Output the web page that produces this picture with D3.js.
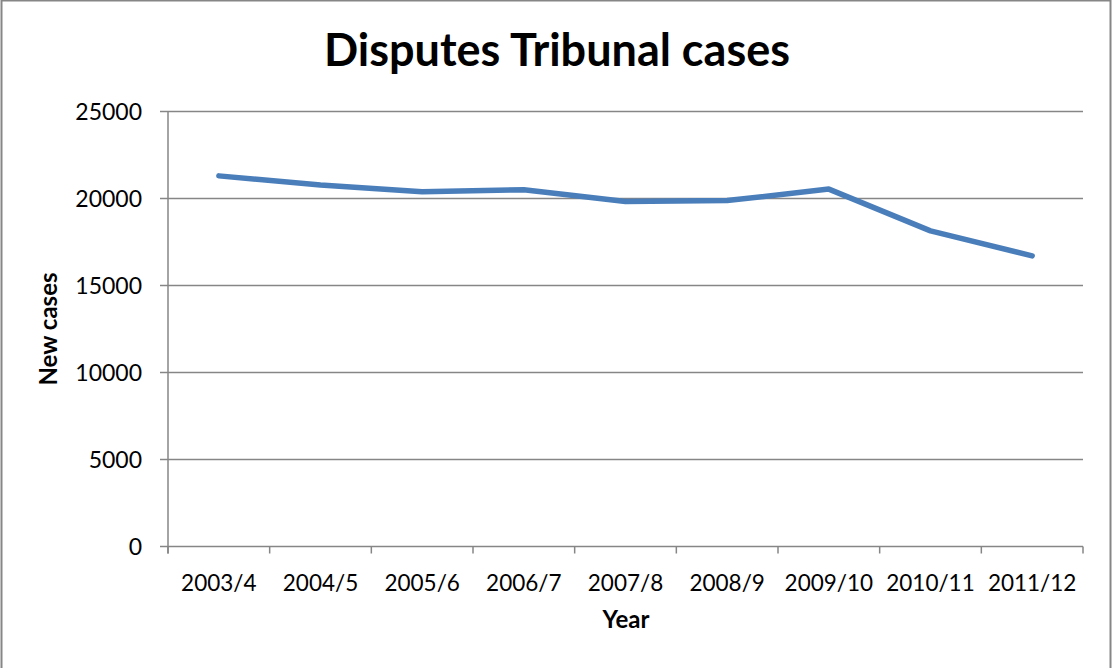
<!DOCTYPE html>
<html>
<head>
<meta charset="utf-8">
<script src="https://cdn.jsdelivr.net/npm/d3@7"></script>
<style>
  html, body { margin: 0; padding: 0; background: #fff; }
  svg { display: block; font-family: Lato, "Open Sans", sans-serif; }
</style>
</head>
<body>
<div id="chart"></div>
<script>
const years = ["2003/4", "2004/5", "2005/6", "2006/7", "2007/8", "2008/9", "2009/10", "2010/11", "2011/12"]
const newCases = [21300, 20780, 20390, 20500, 19830, 19880, 20540, 18140, 16700]
const yTicks = [0, 5000, 10000, 15000, 20000, 25000]

const width = 1113
const height = 668
const margin = {top: 111.5, right: 30, bottom: 121.5, left: 168}
const chartWidth = width - margin.left - margin.right
const chartHeight = height - margin.top - margin.bottom
const gridColor = "#868686"

const svg = d3.select("#chart").append("svg")
    .attr("width", width)
    .attr("height", height)

// outer frame
svg.append("rect")
  .attr("x", 1.5)
  .attr("y", 0.5)
  .attr("width", 1109)
  .attr("height", 680)
  .attr("fill", "none")
  .attr("stroke", gridColor)
  .attr("stroke-width", 2)

const xScale = d3.scaleBand()
    .domain(years)
    .range([0, chartWidth])

const yScale = d3.scaleLinear()
    .domain([0, 25000])
    .range([chartHeight, 0])

const g = svg.append("g")
    .attr("transform", `translate(${margin.left}, ${margin.top})`)

// horizontal gridlines
g.append("g")
  .selectAll("line")
  .data(yTicks)
  .join("line")
  .attr("x1", -8)
  .attr("x2", chartWidth)
  .attr("y1", d => yScale(d))
  .attr("y2", d => yScale(d))
  .attr("stroke", gridColor)
  .attr("stroke-width", 1.5)

// y axis line
g.append("line")
  .attr("x1", 0).attr("x2", 0)
  .attr("y1", 0).attr("y2", chartHeight + 7)
  .attr("stroke", gridColor)
  .attr("stroke-width", 1.5)

// x category boundary ticks
const boundaries = years.map(d => xScale(d)).concat([chartWidth])
g.append("g")
  .selectAll("line")
  .data(boundaries)
  .join("line")
  .attr("x1", d => d).attr("x2", d => d)
  .attr("y1", chartHeight).attr("y2", chartHeight + 7)
  .attr("stroke", gridColor)
  .attr("stroke-width", 1.5)

// y tick labels
g.append("g")
  .selectAll("text")
  .data(yTicks)
  .join("text")
  .attr("x", -26)
  .attr("y", d => yScale(d))
  .attr("dy", "0.35em")
  .attr("text-anchor", "end")
  .attr("font-size", 23)
  .attr("fill", "#000")
  .text(d => d)

// x tick labels
g.append("g")
  .selectAll("text")
  .data(years)
  .join("text")
  .attr("x", d => xScale(d) + xScale.bandwidth() / 2)
  .attr("y", chartHeight + 44)
  .attr("text-anchor", "middle")
  .attr("font-size", 22.5)
  .attr("fill", "#000")
  .text(d => d)

const line = d3.line()
    .x((d, i) => xScale(years[i]) + xScale.bandwidth() / 2)
    .y(d => yScale(d))

g.append("path")
  .datum(newCases)
  .attr("d", line)
  .attr("fill", "none")
  .attr("stroke", "#4a7ebb")
  .attr("stroke-width", 5.5)
  .attr("stroke-linejoin", "round")
  .attr("stroke-linecap", "round")

// title
svg.append("text")
  .attr("x", 557)
  .attr("y", 66)
  .attr("text-anchor", "middle")
  .attr("font-size", 45)
  .attr("font-weight", "bold")
  .attr("fill", "#000")
  .text("Disputes Tribunal cases")

// axis titles
svg.append("text")
  .attr("x", 626)
  .attr("y", 628)
  .attr("text-anchor", "middle")
  .attr("font-size", 24)
  .attr("font-weight", "bold")
  .attr("fill", "#000")
  .text("Year")

svg.append("text")
  .attr("transform", "translate(57, 329) rotate(-90)")
  .attr("text-anchor", "middle")
  .attr("font-size", 24)
  .attr("font-weight", "bold")
  .attr("fill", "#000")
  .text("New cases")
</script>
</body>
</html>
